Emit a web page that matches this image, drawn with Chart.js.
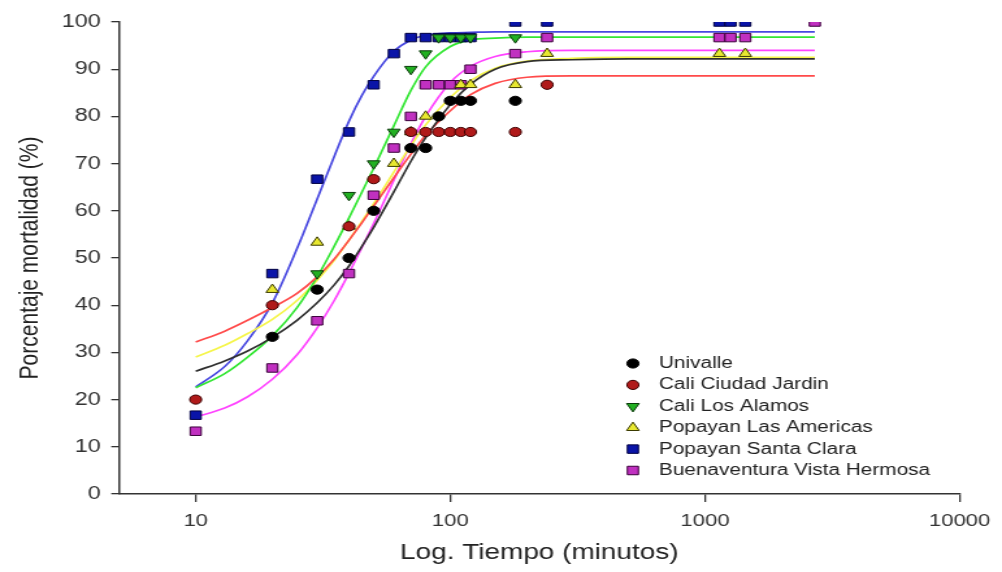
<!DOCTYPE html>
<html><head><meta charset="utf-8">
<script src="https://cdn.jsdelivr.net/npm/chart.js@4.4.1/dist/chart.umd.min.js"></script>
<style>
html,body{margin:0;padding:0;background:#fff;overflow:hidden;}
#wrap{width:1002px;height:572px;overflow:hidden;position:relative;background:#fff;}
#c{position:absolute;left:0;top:0;transform-origin:0 0;transform:scaleX(1.2996);}
</style></head><body>
<div id="wrap"><canvas id="c" width="771" height="572"></canvas></div>
<script>
// ---- data ----
const seriesNames = ["Univalle","Cali Ciudad Jardin","Cali Los Alamos","Popayan Las Americas","Popayan Santa Clara","Buenaventura Vista Hermosa"];
const xTickValues = [10, 100, 1000, 10000];

const xUnivalle = [20,30,40,50,70,80,90,100,110,120,180];
const yUnivalle = [33.3,43.3,50,60,73.3,73.3,80,83.3,83.3,83.3,83.3];
const xCiudadJardin = [10,20,40,50,70,80,90,100,110,120,180,240];
const yCiudadJardin = [20,40,56.7,66.7,76.7,76.7,76.7,76.7,76.7,76.7,76.7,86.7];
const xLosAlamos = [30,40,50,60,70,80,90,100,110,120,180];
const yLosAlamos = [46.7,63.3,70,76.7,90,93.3,96.7,96.7,96.7,96.7,96.7];
const xLasAmericas = [20,30,40,60,70,80,110,120,180,240,1140,1440];
const yLasAmericas = [43.3,53.3,56.7,70,76.7,80,86.7,86.7,86.7,93.3,93.3,93.3];
const xSantaClara = [10,20,30,40,50,60,70,80,90,100,110,120,180,240,1140,1260,1440];
const ySantaClara = [16.7,46.7,66.7,76.7,86.7,93.3,96.7,96.7,96.7,96.7,96.7,96.7,100,100,100,100,100];
const xVistaHermosa = [10,20,30,40,50,60,70,80,90,100,110,120,180,240,1140,1260,1440,2700];
const yVistaHermosa = [13.3,26.7,36.7,46.7,63.3,73.3,80,86.7,86.7,86.7,86.7,90,93.3,96.7,96.7,96.7,96.7,100];

// fitted curves, values at these times
const curveX = [10,13,16,20,25,30,35,40,45,50,60,70,80,100,120,150,200,300,500,2700];
const curveUnivalle = [26,28.2,30.3,33.2,36.8,40.5,44.3,48.3,52.5,56.5,64,70.5,75.5,82.5,86.8,90,91.6,92,92.2,92.2];
const curveCiudadJardin = [32.2,34.5,36.8,39.5,42.5,46,49.8,53.8,57.5,61,67,72,76,81.2,84.6,87,88.3,88.6,88.6,88.6];
const curveLosAlamos = [22.5,25.5,29,33.5,39.5,46,52.5,58.5,64,69,78,85.5,90.5,94.8,96.2,96.6,96.8,96.8,96.8,96.8];
const curveLasAmericas = [29,31.5,34,37,41,45.3,49.5,53.8,57.8,61.5,68.2,73.8,78.2,84,87.6,90.2,91.7,92.3,92.5,92.5];
const curveSantaClara = [22.7,27,32.5,40.5,52,62.5,71.5,79,84.5,88.5,93.8,96.2,97.2,97.7,97.8,97.9,97.9,97.9,97.9,97.9];
const curveVistaHermosa = [16.3,18.2,20.6,24.3,29.5,35.2,41,46.8,52.3,57.3,66.5,74.2,80,87.2,90.6,92.7,93.7,94,94,94];

// ---- styles ----
const FONT = "'Liberation Sans', Arial, sans-serif";
const pointStyles = [
  {style:'circle', radius:4.6, rot:0, fill:'#000000', border:'#000000'},
  {style:'circle', radius:4.6, rot:0, fill:'#b01a1a', border:'#3a0000'},
  {style:'triangle', radius:5.6, rot:180, fill:'#22b022', border:'#0a3a0a'},
  {style:'triangle', radius:5.6, rot:0, fill:'#e8e830', border:'#3a3a00'},
  {style:'rect', radius:6, rot:0, fill:'#0a14a8', border:'#000040'},
  {style:'rect', radius:6, rot:0, fill:'#c030c0', border:'#3a003a'}
];
const lineColors = ['#303030','#ff4a4a','#33e633','#f5f54a','#4848e0','#ff44ff'];

const pointXs = [xUnivalle,xCiudadJardin,xLosAlamos,xLasAmericas,xSantaClara,xVistaHermosa];
const pointYs = [yUnivalle,yCiudadJardin,yLosAlamos,yLasAmericas,ySantaClara,yVistaHermosa];
const curveYs = [curveUnivalle,curveCiudadJardin,curveLosAlamos,curveLasAmericas,curveSantaClara,curveVistaHermosa];

const zip = (xs, ys) => xs.map((x, i) => ({x, y: ys[i]}));

const datasets = [];
seriesNames.forEach((name, i) => {
  const ps = pointStyles[i];
  datasets.push({
    label: name,
    data: zip(pointXs[i], pointYs[i]),
    showLine: false,
    pointStyle: ps.style,
    pointRotation: ps.rot,
    pointRadius: ps.radius,
    pointBackgroundColor: ps.fill,
    pointBorderColor: ps.border,
    pointBorderWidth: 1,
    legendIndex: i
  });
});
seriesNames.forEach((name, i) => {
  datasets.push({
    label: name + ' (ajuste)',
    data: zip(curveX, curveYs[i]),
    showLine: true,
    borderColor: lineColors[i],
    borderWidth: 1.7,
    pointRadius: 0,
    cubicInterpolationMode: 'monotone',
    fill: false
  });
});

const insetLegend = {
  id: 'insetLegend',
  afterDatasetsDraw(chart, args, opts) {
    const ctx = chart.ctx;
    ctx.save();
    ctx.font = opts.fontSize + 'px ' + FONT;
    ctx.textBaseline = 'middle';
    ctx.textAlign = 'left';
    chart.data.datasets.forEach(ds => {
      if (ds.legendIndex === undefined) return;
      const i = ds.legendIndex;
      const y = opts.y + i * opts.rowHeight;
      const ps = pointStyles[i];
      ctx.fillStyle = ps.fill;
      ctx.strokeStyle = ps.border;
      ctx.lineWidth = 1;
      Chart.helpers.drawPoint(ctx, {pointStyle: ps.style, radius: ps.radius, rotation: ps.rot, borderWidth: 1}, opts.x, y);
      ctx.fillStyle = opts.color;
      ctx.fillText(ds.label, opts.x + opts.textOffset, y);
    });
    ctx.restore();
  }
};

new Chart(document.getElementById('c'), {
  type: 'scatter',
  data: { datasets },
  plugins: [insetLegend],
  options: {
    responsive: false,
    animation: false,
    devicePixelRatio: 1,
    layout: { padding: { top: 22, right: 30, left: 0, bottom: 0 } },
    plugins: {
      legend: { display: false },
      tooltip: { enabled: false },
      insetLegend: { x: 487, y: 363.5, rowHeight: 21.4, textOffset: 20, fontSize: 16, color: '#222222' }
    },
    scales: {
      x: {
        type: 'logarithmic',
        min: 5, max: 10000,
        afterBuildTicks: s => { s.ticks = xTickValues.map(v => ({value: v})); },
        afterFit: s => { s.height = 78; },
        ticks: { callback: v => String(v), color: '#333333', font: { family: FONT, size: 17 }, padding: 9, maxRotation: 0, autoSkip: false },
        grid: { display: true, drawOnChartArea: false, drawTicks: true, tickLength: 8, color: '#333333', lineWidth: 1.3 },
        border: { display: true, color: '#333333', width: 1.5 },
        title: { display: true, text: 'Log. Tiempo (minutos)', color: '#222222', font: { family: FONT, size: 21.5 }, padding: { top: 0, bottom: 6 } }
      },
      y: {
        min: 0, max: 100,
        afterFit: s => { s.width = 91.6; },
        ticks: { stepSize: 10, color: '#333333', font: { family: FONT, size: 18 }, padding: 8 },
        grid: { display: true, drawOnChartArea: false, drawTicks: true, tickLength: 6, color: '#333333', lineWidth: 1.3 },
        border: { display: true, color: '#333333', width: 1.5 },
        title: { display: true, text: 'Porcentaje mortalidad (%)', color: '#222222', font: { family: FONT, size: 21 }, padding: { top: 11, bottom: 0 } }
      }
    }
  }
});
</script>
</body></html>
